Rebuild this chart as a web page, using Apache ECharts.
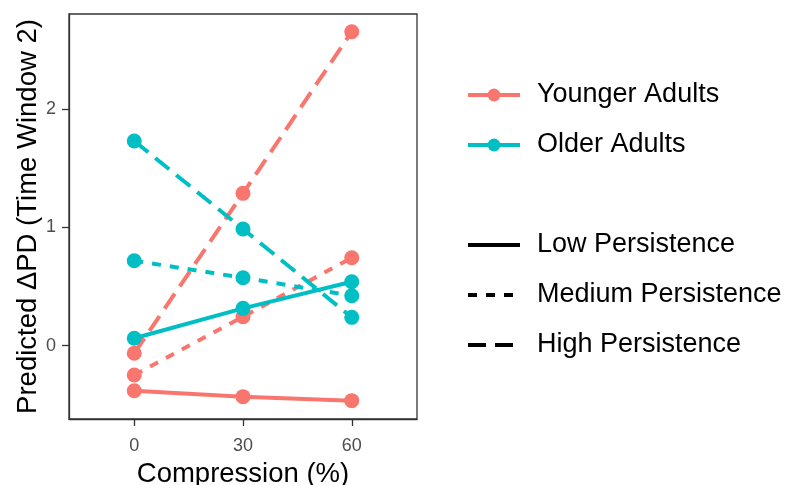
<!DOCTYPE html>
<html>
<head>
<meta charset="utf-8">
<script src="https://cdn.jsdelivr.net/npm/echarts@6/dist/echarts.min.js"></script>
<style>
html,body{margin:0;padding:0;background:#fff;}
#chart{width:786px;height:485px;}
</style>
</head>
<body>
<div id="chart"></div>
<script>
// Data
const compression = [0, 30, 60];
const xTicks = [0, 30, 60];
const yTicks = [0, 1, 2];
const youngerLow = [-0.381, -0.431, -0.465];
const youngerMedium = [-0.248, 0.245, 0.744];
const youngerHigh = [-0.064, 1.289, 2.656];
const olderLow = [0.063, 0.316, 0.541];
const olderMedium = [0.719, 0.575, 0.423];
const olderHigh = [1.732, 0.987, 0.240];
const groupNames = ['Younger Adults', 'Older Adults'];
const persistenceNames = ['Low Persistence', 'Medium Persistence', 'High Persistence'];

const RED = '#F8766D', TEAL = '#00BFC4';
const FONT = '"Liberation Sans", Arial, sans-serif';
const dashes = {low: 'solid', medium: [9, 9], high: [18, 9]};

function pts(vals) { return compression.map((x, i) => [x, vals[i]]); }
function dataSeries(name, vals, color, dash) {
  return {
    name: name, type: 'line', data: pts(vals),
    symbol: 'circle', symbolSize: 15,
    itemStyle: {color: color},
    lineStyle: {color: color, width: 4, type: dash},
    emphasis: {disabled: true}, animation: false, z: 2
  };
}
function legendSeries(name, color, dash, withSymbol) {
  return {
    name: name, type: 'line', data: [],
    symbol: withSymbol ? 'circle' : 'none',
    itemStyle: {color: color},
    lineStyle: {color: color, width: 4, type: dash},
    animation: false
  };
}

const chart = echarts.init(document.getElementById('chart'), null, {renderer: 'canvas'});
const legendCommon = {
  orient: 'vertical', left: 461, itemWidth: 52, itemHeight: 16, itemGap: 20,
  selectedMode: false,
  textStyle: {fontSize: 27, color: '#000', fontFamily: FONT, lineHeight: 30, padding: [0, 0, 0, 12]}
};
const groupLegendData = [
  {name: groupNames[0], lineStyle: {width: 4, color: RED, type: 'solid'}, itemStyle: {color: RED}},
  {name: groupNames[1], lineStyle: {width: 4, color: TEAL, type: 'solid'}, itemStyle: {color: TEAL}}
];
const persLegendData = [
  {name: persistenceNames[0], lineStyle: {width: 4, color: '#000', type: dashes.low}, itemStyle: {opacity: 0}},
  {name: persistenceNames[1], lineStyle: {width: 4, color: '#000', type: dashes.medium}, itemStyle: {opacity: 0}},
  {name: persistenceNames[2], lineStyle: {width: 4, color: '#000', type: dashes.high}, itemStyle: {opacity: 0}}
];
const axisLineStyle = {color: '#333', width: 1.3};
const tickStyle = {color: '#333', width: 1.3};
chart.setOption({
  animation: false,
  backgroundColor: '#fff',
  textStyle: {fontFamily: FONT},
  grid: {left: 69, top: 14, width: 348, height: 405, containLabel: false, outerBoundsMode: 'none',
         show: true, borderColor: '#333', borderWidth: 1.3, backgroundColor: 'transparent'},
  legend: [
    Object.assign({}, legendCommon, {top: 75, data: groupLegendData}),
    Object.assign({}, legendCommon, {top: 225, data: persLegendData})
  ],
  xAxis: {
    type: 'value', min: -18, max: 78,
    name: 'Compression (%)', nameLocation: 'middle', nameGap: 41,
    nameTextStyle: {fontSize: 27.5, color: '#000', fontFamily: FONT},
    splitLine: {show: false},
    axisLine: {show: true, onZero: false, lineStyle: axisLineStyle},
    axisTick: {show: true, inside: false, length: 7, lineStyle: tickStyle, customValues: xTicks},
    axisLabel: {fontSize: 18, color: '#4D4D4D', margin: 18, customValues: xTicks, fontFamily: FONT}
  },
  yAxis: {
    type: 'value', min: -0.62, max: 2.806,
    name: 'Predicted \u0394PD (Time Window 2)', nameLocation: 'middle', nameGap: 26,
    nameTextStyle: {fontSize: 27.5, color: '#000', fontFamily: FONT},
    splitLine: {show: false},
    axisLine: {show: true, onZero: false, lineStyle: axisLineStyle},
    axisTick: {show: true, inside: false, length: 7, lineStyle: tickStyle, customValues: yTicks},
    axisLabel: {fontSize: 18, color: '#4D4D4D', margin: 13, customValues: yTicks, fontFamily: FONT}
  },
  series: [
    dataSeries('Younger Low', youngerLow, RED, dashes.low),
    dataSeries('Younger Medium', youngerMedium, RED, dashes.medium),
    dataSeries('Younger High', youngerHigh, RED, dashes.high),
    dataSeries('Older Low', olderLow, TEAL, dashes.low),
    dataSeries('Older Medium', olderMedium, TEAL, dashes.medium),
    dataSeries('Older High', olderHigh, TEAL, dashes.high),
    legendSeries(groupNames[0], RED, 'solid', true),
    legendSeries(groupNames[1], TEAL, 'solid', true),
    legendSeries(persistenceNames[0], '#000', dashes.low, false),
    legendSeries(persistenceNames[1], '#000', dashes.medium, false),
    legendSeries(persistenceNames[2], '#000', dashes.high, false)
  ]
});
</script>
</body>
</html>
